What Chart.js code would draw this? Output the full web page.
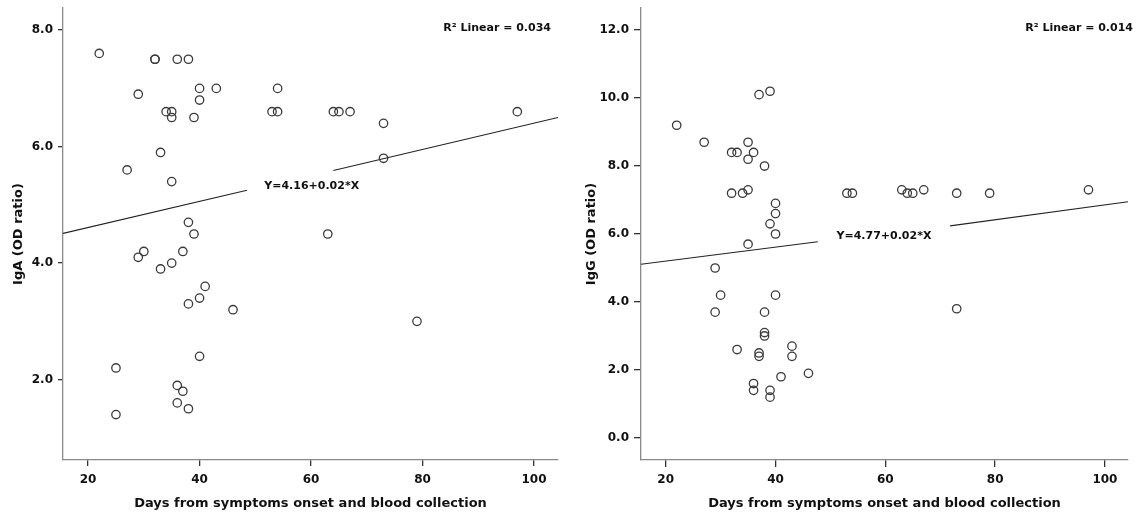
<!DOCTYPE html>
<html>
<head>
<meta charset="utf-8">
<script src="https://cdn.jsdelivr.net/npm/chart.js@4.4.0/dist/chart.umd.min.js"></script>
<style>
  html, body { margin: 0; padding: 0; background: #fff; }
  #wrap { position: relative; width: 1137px; height: 515px; }
  .box { position: absolute; top: 0; height: 515px; }
  #boxA { left: 0; width: 570px; }
  #boxG { left: 570px; width: 567px; }
</style>
</head>
<body>
<div id="wrap">
  <div class="box" id="boxA"><canvas id="igaChart"></canvas></div>
  <div class="box" id="boxG"><canvas id="iggChart"></canvas></div>
</div>
<script>
/* ── DATA ── */

// IgA panel (days, OD ratio)
const igaDays = [22, 32, 32, 36, 38, 29, 34, 35, 35, 40, 40, 43, 39, 54, 53, 54, 33, 27, 35, 38, 39, 30, 37,
                 29, 33, 35, 41, 40, 38, 46, 40, 25, 36, 37, 36, 38, 25, 64, 65, 67, 73, 73, 97, 63, 79];
const igaOD   = [7.6, 7.5, 7.5, 7.5, 7.5, 6.9, 6.6, 6.6, 6.5, 7.0, 6.8, 7.0, 6.5, 7.0, 6.6, 6.6, 5.9, 5.6, 5.4, 4.7, 4.5, 4.2, 4.2,
                 4.1, 3.9, 4.0, 3.6, 3.4, 3.3, 3.2, 2.4, 2.2, 1.9, 1.8, 1.6, 1.5, 1.4, 6.6, 6.6, 6.6, 6.4, 5.8, 6.6, 4.5, 3.0];

// IgG panel (days, OD ratio)
const iggDays = [22, 27, 32, 33, 35, 35, 36, 37, 39, 38, 32, 34, 35, 40, 40, 39, 40, 35, 53, 54, 29, 30, 29,
                 40, 38, 38, 38, 33, 37, 37, 43, 43, 41, 46, 36, 36, 39, 39, 63, 64, 65, 67, 73, 79, 97, 73];
const iggOD   = [9.2, 8.7, 8.4, 8.4, 8.7, 8.2, 8.4, 10.1, 10.2, 8.0, 7.2, 7.2, 7.3, 6.9, 6.6, 6.3, 6.0, 5.7, 7.2, 7.2, 5.0, 4.2, 3.7,
                 4.2, 3.7, 3.1, 3.0, 2.6, 2.5, 2.4, 2.7, 2.4, 1.8, 1.9, 1.6, 1.4, 1.4, 1.2, 7.3, 7.2, 7.2, 7.3, 7.2, 7.2, 7.3, 3.8];

// fit lines (gap where the equation label sits)
const igaFitDays = [15.5, 48.5, 56, 64, 104.3];
const igaFitOD   = [4.51, 5.25, null, 5.59, 6.5];
const iggFitDays = [15.5, 47.7, 60, 71.8, 104.2];
const iggFitOD   = [5.11, 5.77, null, 6.24, 6.95];

// axes
const xTicks   = [20, 40, 60, 80, 100];
const igaTicks = [2, 4, 6, 8];
const iggTicks = [0, 2, 4, 6, 8, 10, 12];

const xTitle = "Days from symptoms onset and blood collection";

/* ── HELPERS ── */
const toPoints = (xs, ys) => xs.map((x, i) => ({ x: x, y: ys[i] }));
const titleFont = { family: "'DejaVu Sans'", size: 13, weight: "bold" };
const tickFont = { family: "'DejaVu Sans'", size: 12, weight: "bold" };

const notesPlugin = {
    id: "notes",
    afterDatasetsDraw(chart, args, opts) {
        const { ctx, chartArea, scales } = chart;
        ctx.save();
        ctx.fillStyle = "#111";
        ctx.textBaseline = "middle";
        ctx.font = "bold 11px 'DejaVu Sans'";
        ctx.textAlign = "left";
        ctx.fillText(opts.equation, scales.x.getPixelForValue(opts.eqAt[0]), scales.y.getPixelForValue(opts.eqAt[1]));
        ctx.textAlign = "right";
        ctx.fillText(opts.r2, chartArea.right + opts.r2Shift, chartArea.top + 20);
        ctx.restore();
    },
};

function buildChart(canvasId, o) {
    const ctx = document.getElementById(canvasId).getContext("2d");
    return new Chart(ctx, {
        type: "scatter",
        data: {
            datasets: [
                {
                    data: toPoints(o.days, o.od),
                    pointRadius: 4.2,
                    pointBorderWidth: 1.3,
                    pointBorderColor: "#3a3a3a",
                    pointBackgroundColor: "rgba(0,0,0,0)",
                    showLine: false,
                },
                {
                    type: "line",
                    data: toPoints(o.fitDays, o.fitOD),
                    borderColor: "#222",
                    borderWidth: 1.1,
                    pointRadius: 0,
                    spanGaps: false,
                    fill: false,
                },
            ],
        },
        options: {
            responsive: true,
            maintainAspectRatio: false,
            animation: false,
            layout: { padding: { left: 0, right: o.padRight, top: 8, bottom: 0 } },
            scales: {
                x: {
                    type: "linear",
                    min: 15.5,
                    max: o.xMax,
                    afterBuildTicks: (s) => { s.ticks = xTicks.map((v) => ({ value: v })); },
                    afterFit: (s) => {
                        s.height = 55;
                        s.paddingLeft = 0;
                        s.paddingRight = 0;
                    },
                    grid: { drawOnChartArea: false, tickLength: o.xTickLen, color: "#333", lineWidth: 1.3 },
                    border: { display: true, color: "#8a8a8a", width: 1.3 },
                    ticks: { color: "#111", padding: o.xPad, font: tickFont },
                    title: {
                        display: true,
                        text: xTitle,
                        color: "#111",
                        font: titleFont,
                        padding: { top: 0, bottom: 3.5 },
                    },
                },
                y: {
                    type: "linear",
                    min: o.yMin,
                    max: o.yMax,
                    afterBuildTicks: (s) => { s.ticks = o.yTicks.map((v) => ({ value: v })); },
                    afterFit: (s) => {
                        s.width = o.yWidth;
                        s.paddingTop = 0;
                        s.paddingBottom = 0;
                    },
                    grid: { drawOnChartArea: false, tickLength: o.yTickLen, color: "#333", lineWidth: 1.3 },
                    border: { display: true, color: "#8a8a8a", width: 1.3 },
                    ticks: {
                        color: "#111",
                        padding: o.yPad,
                        font: tickFont,
                        callback: (v) => Number(v).toFixed(1),
                    },
                    title: {
                        display: true,
                        text: o.yTitle,
                        color: "#111",
                        font: titleFont,
                        padding: { top: o.titlePad, bottom: 0 },
                    },
                },
            },
            plugins: {
                legend: { display: false },
                tooltip: { enabled: false },
                notes: { equation: o.equation, eqAt: o.eqAt, r2: o.r2, r2Shift: o.r2Shift },
            },
        },
        plugins: [notesPlugin],
    });
}

/* ── IgA CHART ── */
const igaChart = buildChart("igaChart", {
    days: igaDays, od: igaOD, fitDays: igaFitDays, fitOD: igaFitOD,
    yTicks: igaTicks, yMin: 0.62, yMax: 8.38, xMax: 104.3,
    yWidth: 63, padRight: 12, xTickLen: 6, yTickLen: 5, xPad: 7, yPad: 5, titlePad: 11.2,
    yTitle: "IgA (OD ratio)",
    equation: "Y=4.16+0.02*X", eqAt: [51.6, 5.32],
    r2: "R² Linear = 0.034", r2Shift: -7,
});

/* ── IgG CHART ── */
const iggChart = buildChart("iggChart", {
    days: iggDays, od: iggOD, fitDays: iggFitDays, fitOD: iggFitOD,
    yTicks: iggTicks, yMin: -0.65, yMax: 12.65, xMax: 104.2,
    yWidth: 71, padRight: 9, xTickLen: 7, yTickLen: 7, xPad: 6, yPad: 5, titlePad: 13.9,
    yTitle: "IgG (OD ratio)",
    equation: "Y=4.77+0.02*X", eqAt: [51.1, 5.94],
    r2: "R² Linear = 0.014", r2Shift: 5,
});
</script>
</body>
</html>
